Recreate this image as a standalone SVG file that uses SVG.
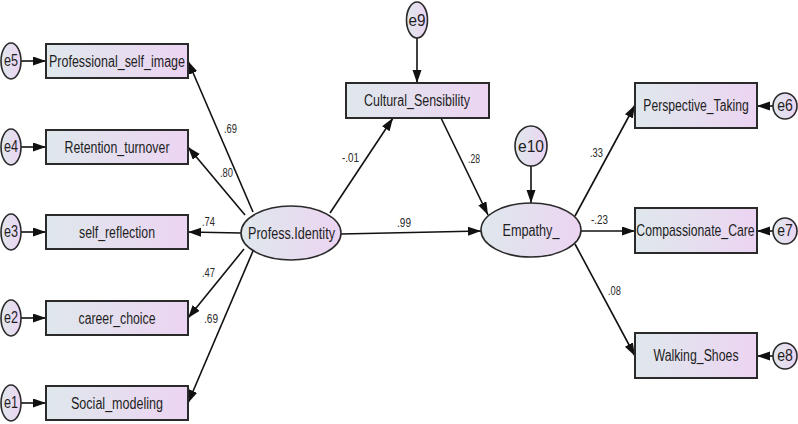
<svg xmlns="http://www.w3.org/2000/svg" width="798" height="424" viewBox="0 0 798 424">
<defs>
<linearGradient id="g" x1="0" y1="0" x2="1" y2="0">
<stop offset="0" stop-color="#dfe8ec"/>
<stop offset="1" stop-color="#ecd4f2"/>
</linearGradient>
<marker id="ah" markerUnits="userSpaceOnUse" markerWidth="14" markerHeight="10" refX="13" refY="4.5" orient="auto">
<path d="M0,0 L13,4.5 L0,9 z" fill="#111"/>
</marker>
</defs>
<style>
.box{fill:url(#g);stroke:#2a2a2a;stroke-width:2}
.ell{fill:url(#g);stroke:#2a2a2a;stroke-width:1.6}
.t{font-family:"Liberation Sans",Arial,sans-serif;font-size:16px;fill:#1e1e1e;text-anchor:middle}
.lb{font-family:"Liberation Sans",Arial,sans-serif;font-size:12.5px;fill:#2a2a2a}
.c{stroke:#111;stroke-width:1.6;fill:none;marker-end:url(#ah)}
</style>
<rect width="798" height="424" fill="#fff"/>
<g id="connectors">
<line class="c" x1="21" y1="61" x2="46" y2="61"/>
<line class="c" x1="21" y1="147" x2="46" y2="147"/>
<line class="c" x1="21" y1="232" x2="46" y2="232"/>
<line class="c" x1="21" y1="318" x2="46" y2="318"/>
<line class="c" x1="21" y1="403" x2="46" y2="403"/>
<line class="c" x1="253" y1="212" x2="188" y2="61"/>
<line class="c" x1="245" y1="215" x2="188" y2="147"/>
<line class="c" x1="241" y1="233" x2="188" y2="232"/>
<line class="c" x1="244" y1="249" x2="188" y2="318"/>
<line class="c" x1="253" y1="251" x2="188" y2="403"/>
<line class="c" x1="330" y1="213" x2="393" y2="118"/>
<line class="c" x1="417" y1="38" x2="417" y2="83"/>
<line class="c" x1="441" y1="118" x2="488" y2="215"/>
<line class="c" x1="341" y1="234" x2="481" y2="231"/>
<line class="c" x1="531" y1="166" x2="531" y2="203"/>
<line class="c" x1="575" y1="216" x2="635" y2="105"/>
<line class="c" x1="581" y1="231" x2="635" y2="231"/>
<line class="c" x1="575" y1="244" x2="635" y2="356"/>
<line class="c" x1="773" y1="106" x2="757" y2="106"/>
<line class="c" x1="773" y1="231" x2="757" y2="231"/>
<line class="c" x1="773" y1="356" x2="757" y2="356"/>
<text class="lb" x="224" y="133" textLength="13" lengthAdjust="spacingAndGlyphs">.69</text>
<text class="lb" x="220" y="177" textLength="13" lengthAdjust="spacingAndGlyphs">.80</text>
<text class="lb" x="202" y="226" textLength="13" lengthAdjust="spacingAndGlyphs">.74</text>
<text class="lb" x="202" y="277" textLength="13" lengthAdjust="spacingAndGlyphs">.47</text>
<text class="lb" x="204" y="323" textLength="14" lengthAdjust="spacingAndGlyphs">.69</text>
<text class="lb" x="342" y="162" textLength="17" lengthAdjust="spacingAndGlyphs">-.01</text>
<text class="lb" x="468" y="163" textLength="12" lengthAdjust="spacingAndGlyphs">.28</text>
<text class="lb" x="397" y="227" textLength="14" lengthAdjust="spacingAndGlyphs">.99</text>
<text class="lb" x="590" y="157" textLength="13" lengthAdjust="spacingAndGlyphs">.33</text>
<text class="lb" x="591" y="224" textLength="17" lengthAdjust="spacingAndGlyphs">-.23</text>
<text class="lb" x="608" y="295" textLength="13" lengthAdjust="spacingAndGlyphs">.08</text>
</g>
<g id="e5"><ellipse class="ell" cx="11" cy="61" rx="10" ry="18"/><text class="t" x="11" y="66" font-size="15" textLength="14" lengthAdjust="spacingAndGlyphs">e5</text></g>
<g id="e4"><ellipse class="ell" cx="11" cy="147" rx="10" ry="18"/><text class="t" x="11" y="152" font-size="15" textLength="14" lengthAdjust="spacingAndGlyphs">e4</text></g>
<g id="e3"><ellipse class="ell" cx="11" cy="232" rx="10" ry="18"/><text class="t" x="11" y="237" font-size="15" textLength="14" lengthAdjust="spacingAndGlyphs">e3</text></g>
<g id="e2"><ellipse class="ell" cx="11" cy="318" rx="10" ry="18"/><text class="t" x="11" y="323" font-size="15" textLength="14" lengthAdjust="spacingAndGlyphs">e2</text></g>
<g id="e1"><ellipse class="ell" cx="11" cy="403" rx="10" ry="18"/><text class="t" x="11" y="408" font-size="15" textLength="14" lengthAdjust="spacingAndGlyphs">e1</text></g>
<g id="Professional_self_image"><rect class="box" x="46" y="44" width="142" height="34"/><text class="t" x="117" y="67" textLength="136" lengthAdjust="spacingAndGlyphs">Professional_self_image</text></g>
<g id="Retention_turnover"><rect class="box" x="46" y="130" width="142" height="34"/><text class="t" x="117" y="152.5" textLength="105" lengthAdjust="spacingAndGlyphs">Retention_turnover</text></g>
<g id="self_reflection"><rect class="box" x="46" y="215" width="142" height="34"/><text class="t" x="117" y="237.5" textLength="76" lengthAdjust="spacingAndGlyphs">self_reflection</text></g>
<g id="career_choice"><rect class="box" x="46" y="301" width="142" height="34"/><text class="t" x="117" y="323.5" textLength="77" lengthAdjust="spacingAndGlyphs">career_choice</text></g>
<g id="Social_modeling"><rect class="box" x="46" y="386" width="142" height="34"/><text class="t" x="117" y="408.5" textLength="92" lengthAdjust="spacingAndGlyphs">Social_modeling</text></g>
<g id="Profess.Identity"><ellipse class="ell" cx="291" cy="233" rx="50" ry="27"/><text class="t" x="291.5" y="238.5" font-size="16.5" textLength="87" lengthAdjust="spacingAndGlyphs">Profess.Identity</text></g>
<g id="e9"><ellipse class="ell" cx="417" cy="20" rx="10.5" ry="18"/><text class="t" x="417" y="26" font-size="16.5" textLength="17" lengthAdjust="spacingAndGlyphs">e9</text></g>
<g id="Cultural_Sensibility"><rect class="box" x="346" y="83" width="143" height="35"/><text class="t" x="417" y="106" textLength="106" lengthAdjust="spacingAndGlyphs">Cultural_Sensibility</text></g>
<g id="e10"><ellipse class="ell" cx="531" cy="146" rx="16" ry="20"/><text class="t" x="531" y="152" font-size="16.5" textLength="26" lengthAdjust="spacingAndGlyphs">e10</text></g>
<g id="Empathy_"><ellipse class="ell" cx="531" cy="230" rx="50" ry="27"/><text class="t" x="531" y="236" font-size="16.5" textLength="57" lengthAdjust="spacingAndGlyphs">Empathy_</text></g>
<g id="Perspective_Taking"><rect class="box" x="635" y="83" width="122" height="45"/><text class="t" transform="translate(696,111) scale(0.76,1)">Perspective_Taking</text></g>
<g id="Compassionate_Care"><rect class="box" x="635" y="208" width="122" height="45"/><text class="t" transform="translate(695.5,236) scale(0.765,1)">Compassionate_Care</text></g>
<g id="Walking_Shoes"><rect class="box" x="635" y="333" width="122" height="45"/><text class="t" transform="translate(696,361) scale(0.77,1)">Walking_Shoes</text></g>
<g id="e6"><ellipse class="ell" cx="785" cy="106" rx="12" ry="13"/><text class="t" font-size="15" transform="translate(785,111) scale(0.88,1)">e6</text></g>
<g id="e7"><ellipse class="ell" cx="785" cy="231" rx="12" ry="13"/><text class="t" font-size="15" transform="translate(785,236) scale(0.88,1)">e7</text></g>
<g id="e8"><ellipse class="ell" cx="785" cy="356" rx="12" ry="13"/><text class="t" font-size="15" transform="translate(785,361) scale(0.88,1)">e8</text></g>
</svg>
